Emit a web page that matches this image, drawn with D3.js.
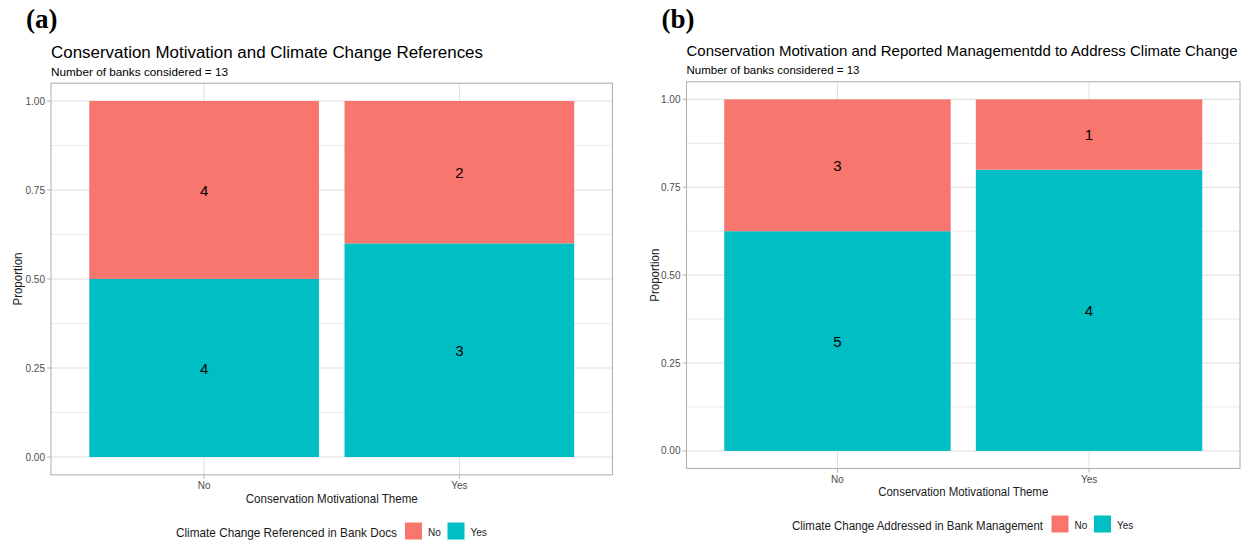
<!DOCTYPE html>
<html>
<head>
<meta charset="utf-8">
<script src="https://cdn.jsdelivr.net/npm/d3@7"></script>
<style>
  html, body { margin: 0; padding: 0; background: #fff; }
  svg { display: block; font-family: "Liberation Sans", Arial, sans-serif; }
</style>
</head>
<body>
<svg id="chart" width="1247" height="543"></svg>
<script>
// Shared categories
const themes = ["No", "Yes"];          // Conservation Motivational Theme
const fillLevels = ["No", "Yes"];      // stack levels
const fillColors = ["#F8766D", "#00BFC4"];
const yTicks = [0, 0.25, 0.5, 0.75, 1];
const yTickLabels = ["0.00", "0.25", "0.50", "0.75", "1.00"];
const yMinor = [0.125, 0.375, 0.625, 0.875];

// Panel (a): counts of banks by climate change referenced in docs
const countsA_No = [4, 2];   // Climate Change Referenced = No
const countsA_Yes = [4, 3];  // Climate Change Referenced = Yes

// Panel (b): counts of banks by climate change addressed in management
const countsB_No = [3, 1];
const countsB_Yes = [5, 4];

const svg = d3.select("#chart");
const SVG_W = 1247;

// pin a text run to a width; shrink the font first if its natural
// extent would run past the right edge of the drawing
function fitWidth(sel, width, x0) {
  const fs = parseFloat(sel.attr("font-size"));
  const len = sel.node().getComputedTextLength();
  if (x0 !== undefined && x0 + len > SVG_W - 2) {
    sel.attr("font-size", (fs * width / len).toFixed(2));
  }
  sel.attr("textLength", width).attr("lengthAdjust", "spacingAndGlyphs");
  return sel;
}

function drawPanel(cfg) {
  const g = svg.append("g");
  const { left, right, top, bottom } = cfg.panel;
  const fs = cfg.fonts;

  // discrete x positioned on a continuous 0.4..2.6 range
  const xc = d3.scaleLinear().domain([0.4, 2.6]).range([left, right]);
  const xPos = d => xc(themes.indexOf(d) + 1);
  const bw = (xc(1.45) - xc(0.55));
  const y = d3.scaleLinear().domain([-0.05, 1.05]).range([bottom, top]);

  // grid
  g.selectAll(".minor").data(yMinor).join("line")
    .attr("x1", left).attr("x2", right)
    .attr("y1", d => y(d)).attr("y2", d => y(d))
    .attr("stroke", "#dedede").attr("stroke-width", 0.6);
  g.selectAll(".major").data(yTicks).join("line")
    .attr("x1", left).attr("x2", right)
    .attr("y1", d => y(d)).attr("y2", d => y(d))
    .attr("stroke", "#dedede").attr("stroke-width", 1);
  g.selectAll(".vmajor").data(themes).join("line")
    .attr("x1", d => xPos(d)).attr("x2", d => xPos(d))
    .attr("y1", top).attr("y2", bottom)
    .attr("stroke", "#dedede").attr("stroke-width", 1);

  // stacked proportions
  const rows = themes.map((t, i) => {
    const total = cfg.no[i] + cfg.yes[i];
    return { theme: t, No: cfg.no[i], Yes: cfg.yes[i], total };
  });
  const norm = rows.map(r => ({ theme: r.theme, No: r.No / r.total, Yes: r.Yes / r.total }));
  const stack = d3.stack().keys(["Yes", "No"])(norm);

  stack.forEach(layer => {
    const color = fillColors[fillLevels.indexOf(layer.key)];
    g.selectAll(null).data(layer).join("rect")
      .attr("x", d => xPos(d.data.theme) - bw / 2)
      .attr("width", bw)
      .attr("y", d => y(d[1]))
      .attr("height", d => y(d[0]) - y(d[1]))
      .attr("fill", color);
    g.selectAll(null).data(layer).join("text")
      .attr("x", d => xPos(d.data.theme))
      .attr("y", d => y((d[0] + d[1]) / 2))
      .attr("text-anchor", "middle")
      .attr("dominant-baseline", "central")
      .attr("font-size", 15)
      .attr("fill", "#000")
      .text((d, i) => rows[i][layer.key]);
  });

  // panel border
  g.append("rect")
    .attr("x", left).attr("y", top)
    .attr("width", right - left).attr("height", bottom - top)
    .attr("fill", "none").attr("stroke", "#b3b3b3").attr("stroke-width", 1.1);

  // y axis ticks and labels
  g.selectAll(".yt").data(yTicks).join("line")
    .attr("x1", left - 4).attr("x2", left)
    .attr("y1", d => y(d)).attr("y2", d => y(d))
    .attr("stroke", "#b3b3b3");
  g.selectAll(".yl").data(yTicks).join("text")
    .attr("x", left - 6).attr("y", d => y(d))
    .attr("text-anchor", "end").attr("dominant-baseline", "central")
    .attr("font-size", 10).attr("fill", "#4d4d4d")
    .text((d, i) => yTickLabels[i]);

  // x axis ticks and labels
  g.selectAll(".xt").data(themes).join("line")
    .attr("x1", d => xPos(d)).attr("x2", d => xPos(d))
    .attr("y1", bottom).attr("y2", bottom + 4)
    .attr("stroke", "#b3b3b3");
  g.selectAll(".xl").data(themes).join("text")
    .attr("x", d => xPos(d)).attr("y", bottom + 14)
    .attr("text-anchor", "middle")
    .attr("font-size", 10).attr("fill", "#4d4d4d")
    .text(d => d);

  // axis titles
  const xt = g.append("text")
    .attr("x", (left + right) / 2 - cfg.widths.xTitle / 2).attr("y", cfg.xTitleY)
    .attr("font-size", fs.axisTitle).attr("fill", "#1a1a1a")
    .text("Conservation Motivational Theme");
  fitWidth(xt, cfg.widths.xTitle);
  const yt = g.append("text")
    .attr("transform", `translate(${cfg.yTitleX},${(top + bottom) / 2 + 26.5}) rotate(-90)`)
    .attr("font-size", fs.axisTitle).attr("fill", "#1a1a1a")
    .text("Proportion");
  fitWidth(yt, 53);

  // titles
  const tt = g.append("text")
    .attr("x", left).attr("y", cfg.titleY)
    .attr("font-size", fs.title).attr("fill", "#000")
    .text(cfg.title);
  fitWidth(tt, cfg.widths.title, left);
  const st = g.append("text")
    .attr("x", left).attr("y", cfg.titleY + 18.5)
    .attr("font-size", fs.subtitle).attr("fill", "#000")
    .text("Number of banks considered = 13");
  fitWidth(st, cfg.widths.subtitle, left);

  // panel tag
  g.append("text")
    .attr("x", cfg.tagX).attr("y", 28)
    .attr("font-family", "'Liberation Serif', 'Times New Roman', serif")
    .attr("font-weight", "bold").attr("font-size", 27).attr("fill", "#000")
    .text(cfg.tag);

  // legend
  const lg = g.append("g").attr("transform", `translate(0,${cfg.legend.y})`);
  const lt = lg.append("text")
    .attr("x", cfg.legend.titleX).attr("y", 0)
    .attr("font-size", fs.axisTitle).attr("fill", "#1a1a1a")
    .text(cfg.legend.title);
  fitWidth(lt, cfg.widths.legendTitle);
  fillLevels.forEach((lvl, i) => {
    lg.append("rect")
      .attr("x", cfg.legend.keyX[i]).attr("y", -14)
      .attr("width", 17).attr("height", 17)
      .attr("fill", fillColors[i]);
    lg.append("text")
      .attr("x", cfg.legend.keyX[i] + 23).attr("y", -1)
      .attr("font-size", 10).attr("fill", "#1a1a1a")
      .text(lvl);
  });
}

drawPanel({
  tag: "(a)", tagX: 26,
  title: "Conservation Motivation and Climate Change References",
  titleY: 57.5,
  xTitleY: 503,
  panel: { left: 51, right: 612.5, top: 83.2, bottom: 474.8 },
  yTitleX: 22,
  no: countsA_No, yes: countsA_Yes,
  fonts: { title: 16, subtitle: 11.5, axisTitle: 13 },
  widths: { title: 432, subtitle: 177, xTitle: 172, legendTitle: 221 },
  legend: { y: 536.5, title: "Climate Change Referenced in Bank Docs", titleX: 176, keyX: [405, 447.5] }
});

drawPanel({
  tag: "(b)", tagX: 661.5,
  title: "Conservation Motivation and Reported Managementdd to Address Climate Change",
  titleY: 55.5,
  xTitleY: 496,
  panel: { left: 686.5, right: 1240, top: 81.8, bottom: 468.5 },
  yTitleX: 659,
  no: countsB_No, yes: countsB_Yes,
  fonts: { title: 15.5, subtitle: 11.2, axisTitle: 12.5 },
  widths: { title: 551, subtitle: 173, xTitle: 170, legendTitle: 251 },
  legend: { y: 529.5, title: "Climate Change Addressed in Bank Management", titleX: 792, keyX: [1051.5, 1094] }
});
</script>
</body>
</html>
